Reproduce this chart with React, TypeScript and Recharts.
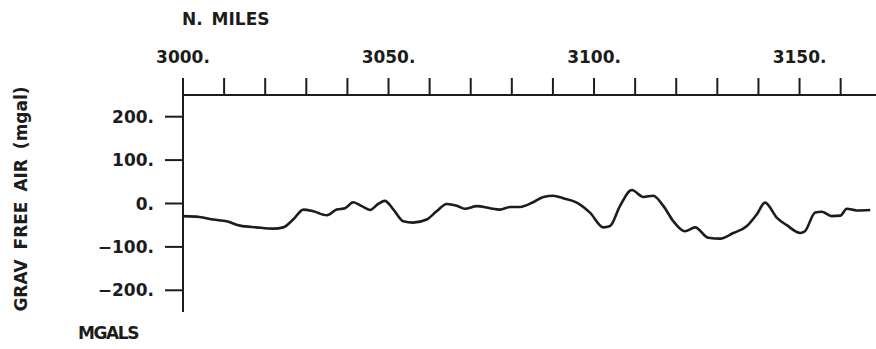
import React from 'react';
import { LineChart, Line, XAxis, YAxis } from 'recharts';

// distance along track (nautical miles) and free-air gravity (mgal)
const miles = [
  3000, 3004, 3007.4, 3010.6, 3013.9, 3017.9, 3022, 3024.4, 3026.8, 3029.3,
  3031.7, 3035, 3037.4, 3039.4, 3041.4, 3043.5, 3045.5, 3047.5, 3049.1, 3051.2,
  3053.6, 3056, 3059.3, 3061.7, 3064.2, 3066.6, 3068.6, 3071.5, 3074.7, 3077.1,
  3079.6, 3082, 3085.2, 3087.7, 3090.1, 3092.5, 3095.8, 3099, 3102.3, 3103.9,
  3106.3, 3109.2, 3112, 3114.4, 3116.9, 3119.3, 3122.1, 3124.6, 3127.8, 3130.7,
  3133.9, 3137.2, 3139.6, 3141.6, 3144.5, 3146.9, 3150.2, 3151.3, 3153.8, 3155.4,
  3157.8, 3159.9, 3161.5, 3163.9, 3167.2,
];
const gravFreeAir = [
  -29, -31, -37, -41, -51, -55, -58, -55, -37, -14,
  -18, -27, -14, -11, 3, -6, -15, -1, 6, -14,
  -41, -44, -37, -18, -1, -5, -12, -6, -11, -14,
  -8, -8, 3, 15, 18, 12, 2, -21, -55, -52,
  -6, 31, 15, 18, -6, -41, -64, -55, -79, -81,
  -68, -52, -25, 2, -33, -50, -68, -64, -21, -19,
  -29, -28, -12, -16, -15,
];

const xTicks = [3000, 3010, 3020, 3030, 3040, 3050, 3060, 3070, 3080, 3090, 3100, 3110, 3120, 3130, 3140, 3150, 3160];
const yTicks = [-200, -100, 0, 100, 200];

const data = miles.map((m, i) => ({ mile: m, grav: gravFreeAir[i] }));

const FONT = '"DejaVu Sans", Verdana, sans-serif';
const INK = '#1c1c1c';
const FS = 17;

// labels only every 50 miles, the rest are bare tick marks
const XTick = (props: any) => {
  const v = props.payload.value;
  if (v % 50 !== 0) return null;
  return (
    <text x={props.x} y={props.y} textAnchor="middle" fill={INK} fontSize={FS} fontWeight={700} fontFamily={FONT}>
      {`${v}.`}
    </text>
  );
};

const YTick = (props: any) => {
  const v = props.payload.value;
  return (
    <text x={props.x} y={props.y} dy={6} textAnchor="end" fill={INK} fontSize={FS} fontWeight={700} fontFamily={FONT}>
      {`${v < 0 ? '\u2212' + Math.abs(v) : v}.`}
    </text>
  );
};

export default function App() {
  return (
    <div style={{ position: 'absolute', left: 0, top: 0, width: 876, height: 349, background: '#fff' }}>
      <LineChart width={876} height={349} data={data} margin={{ top: 0, right: 0, bottom: 37, left: 0 }}>
        <XAxis
          dataKey="mile"
          type="number"
          orientation="top"
          domain={[3000, 3168.6]}
          ticks={xTicks}
          interval={0}
          height={95}
          tickSize={17}
          tickMargin={15}
          tick={XTick}
          axisLine={{ stroke: INK, strokeWidth: 2 }}
          tickLine={{ stroke: INK, strokeWidth: 2 }}
          allowDataOverflow
          label={{
            content: () => (
              <text x={182} y={25} fill={INK} fontSize={FS} fontWeight={700} fontFamily={FONT} wordSpacing={3}>
                N. MILES
              </text>
            ),
          }}
        />
        <YAxis
          type="number"
          domain={[-250, 250]}
          ticks={yTicks}
          width={183}
          tickSize={18}
          tickMargin={11}
          tick={YTick}
          axisLine={{ stroke: INK, strokeWidth: 2 }}
          tickLine={{ stroke: INK, strokeWidth: 2 }}
          label={{
            content: () => (
              <text
                x={27}
                y={199}
                transform="rotate(-90 27 199)"
                textAnchor="middle"
                fill={INK}
                fontSize={FS}
                fontWeight={700}
                fontFamily={FONT}
                wordSpacing={4}
              >
                GRAV FREE AIR (mgal)
              </text>
            ),
          }}
        />
        <Line
          type="monotone"
          dataKey="grav"
          stroke={INK}
          strokeWidth={2.6}
          dot={false}
          isAnimationActive={false}
        />
      </LineChart>
      <div
        style={{
          position: 'absolute',
          left: 78,
          top: 324,
          fontFamily: FONT,
          fontWeight: 700,
          fontSize: FS,
          lineHeight: '19px',
          letterSpacing: -1.4,
          color: INK,
        }}
      >
        MGALS
      </div>
    </div>
  );
}
